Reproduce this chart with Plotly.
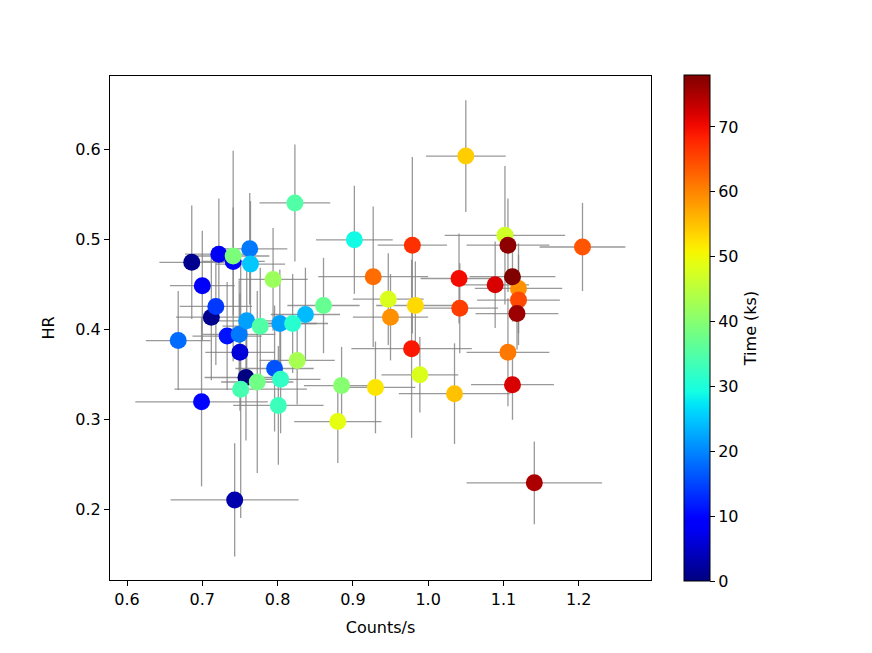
import numpy as np
import plotly.graph_objects as go

# count rate vs hardness ratio, coloured by time
counts = [1.050, 0.823, 0.902, 0.979, 1.102, 1.106, 1.205, 0.686, 0.722, 0.741,
          0.741, 0.763, 0.764, 0.700, 0.794, 0.927, 1.041, 1.089, 1.112, 1.120,
          1.120, 1.118, 1.042, 0.983, 0.947, 0.950, 0.861, 0.837, 0.718, 0.712,
          0.759, 0.777, 0.803, 0.820, 0.668, 0.733, 0.749, 0.750, 0.796, 0.826,
          0.758, 0.773, 0.751, 0.804, 0.801, 0.699, 0.743, 0.885, 0.930, 0.880,
          0.989, 1.035, 0.978, 1.106, 1.112, 1.141]
counts_err = [0.053, 0.047, 0.051, 0.046, 0.080, 0.055, 0.057, 0.043, 0.045, 0.042,
              0.048, 0.050, 0.046, 0.043, 0.046, 0.073, 0.051, 0.045, 0.057, 0.058,
              0.055, 0.055, 0.051, 0.052, 0.047, 0.050, 0.048, 0.046, 0.048, 0.047,
              0.052, 0.050, 0.049, 0.047, 0.043, 0.046, 0.048, 0.046, 0.052, 0.050,
              0.055, 0.048, 0.088, 0.053, 0.060, 0.088, 0.085, 0.050, 0.053, 0.058,
              0.051, 0.074, 0.080, 0.055, 0.055, 0.090]
hr = [0.593, 0.541, 0.500, 0.494, 0.505, 0.494, 0.492, 0.475, 0.484, 0.476,
      0.482, 0.490, 0.473, 0.449, 0.456, 0.459, 0.457, 0.450, 0.459, 0.446,
      0.433, 0.418, 0.424, 0.427, 0.434, 0.414, 0.427, 0.417, 0.426, 0.414,
      0.410, 0.404, 0.407, 0.407, 0.388, 0.393, 0.395, 0.375, 0.357, 0.366,
      0.347, 0.342, 0.334, 0.345, 0.316, 0.320, 0.211, 0.338, 0.336, 0.298,
      0.350, 0.329, 0.379, 0.375, 0.339, 0.230]
hr_err = [0.062, 0.065, 0.060, 0.098, 0.077, 0.052, 0.049, 0.063, 0.062, 0.060,
          0.117, 0.062, 0.070, 0.061, 0.057, 0.078, 0.050, 0.048, 0.050, 0.050,
          0.050, 0.040, 0.050, 0.049, 0.051, 0.048, 0.053, 0.052, 0.065, 0.070,
          0.060, 0.065, 0.060, 0.055, 0.055, 0.060, 0.060, 0.065, 0.070, 0.049,
          0.070, 0.101, 0.143, 0.060, 0.066, 0.094, 0.063, 0.043, 0.051, 0.046,
          0.042, 0.056, 0.099, 0.060, 0.039, 0.046]
time_ks = [54, 35, 29, 67, 47, 77, 64, 1, 8, 10,
           39, 19, 25, 9, 42, 62, 70, 72, 78, 59,
           65, 76, 66, 53, 48, 59, 37, 24, 14, 1,
           22, 35, 22, 31, 18, 11, 19, 6, 16, 43,
           0, 38, 34, 32, 33, 10, 3, 40, 52, 49,
           48, 55, 69, 61, 72, 75]

x_ticks = [0.6, 0.7, 0.8, 0.9, 1.0, 1.1, 1.2]
y_ticks = [0.2, 0.3, 0.4, 0.5, 0.6]
cbar_ticks = [0, 10, 20, 30, 40, 50, 60, 70]

# matplotlib "jet"
_jet = {
    "r": [(0, 0), (0.35, 0), (0.66, 1), (0.89, 1), (1, 0.5)],
    "g": [(0, 0), (0.125, 0), (0.375, 1), (0.64, 1), (0.91, 0), (1, 0)],
    "b": [(0, 0.5), (0.11, 1), (0.34, 1), (0.65, 0), (1, 0)],
}
def _ch(pts, f):
    xs, ys = zip(*pts)
    return float(np.interp(f, xs, ys))
jet = []
for f in np.linspace(0, 1, 41):
    r, g, b = (_ch(_jet[k], f) for k in "rgb")
    jet.append([float(f), f"rgb({r*255:.0f},{g*255:.0f},{b*255:.0f})"])

FONT = "DejaVu Sans"
order = np.argsort(time_ks, kind="stable")
cx = np.array(counts)[order]
hy = np.array(hr)[order]
tt = np.array(time_ks)[order]

fig = go.Figure()
fig.add_trace(go.Scatter(
    x=counts, y=hr, mode="markers",
    marker=dict(size=1, opacity=0),
    error_x=dict(type="data", array=counts_err, color="rgba(128,128,128,0.8)", thickness=1.3, width=0),
    error_y=dict(type="data", array=hr_err, color="rgba(128,128,128,0.8)", thickness=1.3, width=0),
    showlegend=False, hoverinfo="skip",
))
fig.add_trace(go.Scatter(
    x=cx, y=hy, mode="markers",
    marker=dict(
        size=17, color=tt, colorscale=jet, cmin=0, cmax=78,
        line=dict(width=0),
        colorbar=dict(
            x=1.043, xanchor="left", y=0.5, yanchor="middle",
            len=526, lenmode="pixels", thickness=26,
            outlinecolor="black", outlinewidth=1,
            ticks="outside", ticklen=5, tickcolor="black",
            tickvals=cbar_ticks, tickfont=dict(family=FONT, size=16, color="black"),
            title=dict(text="Time (ks)", side="right", font=dict(family=FONT, size=16, color="black")),
        ),
    ),
    showlegend=False,
))

axis_common = dict(
    showline=True, linecolor="black", linewidth=1.2, mirror=True,
    ticks="outside", ticklen=5, tickcolor="black",
    showgrid=False, zeroline=False,
    tickfont=dict(family=FONT, size=16, color="black"),
)
fig.update_xaxes(range=[0.5774, 1.296], tickvals=x_ticks, ticktext=[f"{v:.1f}" for v in x_ticks],
                 title=dict(text="Counts/s", font=dict(family=FONT, size=16, color="black"), standoff=13),
                 **axis_common)
fig.update_yaxes(range=[0.122, 0.682], tickvals=y_ticks, ticktext=[f"{v:.1f}" for v in y_ticks],
                 title=dict(text="HR", font=dict(family=FONT, size=16, color="black"), standoff=16),
                 **axis_common)
# page has an 8px body margin, so the figure is drawn slightly smaller
fig.update_layout(
    width=864, height=645,
    margin=dict(l=102, r=221, t=68, b=73, autoexpand=False),
    paper_bgcolor="white", plot_bgcolor="white",
)
fig.write_html("out.html")
